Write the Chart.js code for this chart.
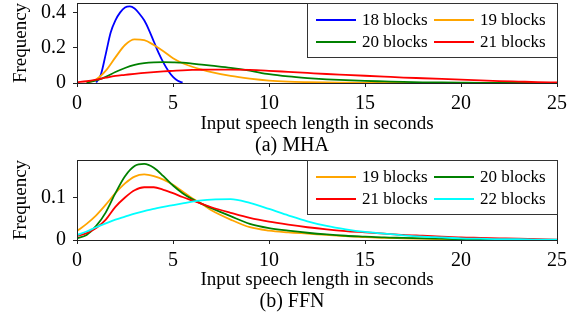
<!DOCTYPE html>
<html>
<head>
<meta charset="utf-8">
<script src="https://cdn.jsdelivr.net/npm/chart.js@4.4.0/dist/chart.umd.min.js"></script>
<style>
  body { margin: 0; background: #fff; }
  #wrap { position: relative; width: 578px; height: 313px; overflow: hidden; }
  #wrap canvas { position: absolute; left: 0; }
  .cap { position: absolute; left: 0; width: 584px; text-align: center; font-family: "Liberation Serif", serif; font-size: 20px; line-height: 20px; color: #000; }
</style>
</head>
<body>
<div id="wrap">
  <canvas id="mha" width="578" height="157" style="top:0"></canvas>
  <canvas id="ffn" width="578" height="157" style="top:157px"></canvas>
  <div class="cap" style="top:134px">(a) MHA</div>
  <div class="cap" style="top:290px">(b) FFN</div>
</div>
<script>
// shared axis stuff
var xTicks = [0, 5, 10, 15, 20, 25];
var xTitle = 'Input speech length in seconds';
var yTitle = 'Frequency';

// (a) MHA
var mhaX = [0, 0.5, 1, 1.5, 2, 2.5, 3, 3.5, 4, 4.5, 5, 5.5, 6, 6.5, 7, 8, 9, 10, 11, 12, 13, 14, 15, 16, 17, 18, 19, 20, 21, 22, 23, 24, 25];
var mhaX18 = [1, 1.25, 1.5, 1.75, 2, 2.25, 2.5, 2.75, 3, 3.25, 3.5, 3.75, 4, 4.25, 4.5, 4.75, 5, 5.25, 5.5];
var mha18 = [0.003, 0.05, 0.165, 0.285, 0.355, 0.4, 0.428, 0.434, 0.422, 0.392, 0.355, 0.3, 0.235, 0.17, 0.115, 0.07, 0.035, 0.013, 0.002];
var mha19 = [null, 0.001, 0.02, 0.07, 0.145, 0.215, 0.247, 0.243, 0.215, 0.18, 0.14, 0.112, 0.092, 0.076, 0.062, 0.04, 0.025, 0.014, 0.008, 0.005, 0.003, 0.002, 0.001, 0.001, 0, 0, 0, 0, 0, 0, 0, 0, 0];
var mha20 = [null, 0.002, 0.015, 0.035, 0.062, 0.085, 0.102, 0.112, 0.117, 0.118, 0.117, 0.115, 0.11, 0.104, 0.098, 0.086, 0.07, 0.05, 0.037, 0.028, 0.021, 0.016, 0.012, 0.009, 0.006, 0.004, 0.003, 0.002, 0.001, 0.001, 0, 0, 0];
var mha21 = [0.004, 0.01, 0.019, 0.03, 0.04, 0.046, 0.052, 0.057, 0.062, 0.066, 0.069, 0.072, 0.074, 0.075, 0.076, 0.076, 0.074, 0.069, 0.063, 0.057, 0.051, 0.046, 0.041, 0.036, 0.031, 0.027, 0.023, 0.019, 0.015, 0.011, 0.008, 0.005, 0.003];
var mhaLabels = ['18 blocks', '19 blocks', '20 blocks', '21 blocks'];
var mhaYTicks = [0, 0.2, 0.4];
var mhaYLabels = ['0', '0.2', '0.4'];

// (b) FFN
var ffnX = mhaX;
var ffn19 = [0.021, 0.038, 0.058, 0.083, 0.11, 0.133, 0.149, 0.154, 0.15, 0.142, 0.13, 0.114, 0.098, 0.085, 0.07, 0.048, 0.03, 0.022, 0.018, 0.015, 0.012, 0.009, 0.007, 0.005, 0.004, 0.003, 0.002, 0.002, 0.001, 0.001, 0.001, 0, 0];
var ffn20 = [0.004, 0.012, 0.033, 0.065, 0.11, 0.15, 0.174, 0.179, 0.17, 0.15, 0.128, 0.11, 0.096, 0.085, 0.075, 0.056, 0.038, 0.028, 0.022, 0.017, 0.013, 0.01, 0.008, 0.006, 0.005, 0.004, 0.003, 0.002, 0.002, 0.001, 0.001, 0, 0];
var ffn21 = [0.009, 0.016, 0.028, 0.048, 0.078, 0.1, 0.117, 0.124, 0.124, 0.118, 0.11, 0.101, 0.093, 0.085, 0.077, 0.064, 0.052, 0.043, 0.036, 0.03, 0.025, 0.021, 0.018, 0.015, 0.012, 0.01, 0.008, 0.006, 0.005, 0.004, 0.003, 0.002, 0.001];
var ffn22 = [0.012, 0.02, 0.03, 0.039, 0.048, 0.055, 0.062, 0.068, 0.073, 0.078, 0.082, 0.086, 0.09, 0.093, 0.095, 0.096, 0.087, 0.073, 0.058, 0.044, 0.033, 0.025, 0.019, 0.015, 0.011, 0.008, 0.006, 0.004, 0.003, 0.002, 0.002, 0.001, 0.001];
var ffnLabels = ['19 blocks', '20 blocks', '21 blocks', '22 blocks'];
var ffnYTicks = [0, 0.1];
var ffnYLabels = ['0', '0.1'];

var serif = 'Liberation Serif';

function points(xs, ys) {
  var out = [];
  for (var i = 0; i < xs.length; i++) {
    out.push({ x: xs[i], y: ys[i] });
  }
  return out;
}

// frame on top/right + legend box in the upper right of the plot
var boxPlugin = {
  id: 'box',
  afterDatasetsDraw: function (chart) {
    var a = chart.chartArea, ctx = chart.ctx;
    ctx.save();
    ctx.strokeStyle = '#222';
    ctx.lineWidth = 1;
    ctx.strokeRect(Math.round(a.left) + 0.5, Math.round(a.top) + 0.5, Math.round(a.right - a.left), Math.round(a.bottom - a.top));

    var bx = Math.round(a.right) - 250, by = Math.round(a.top);
    ctx.fillStyle = '#fff';
    ctx.fillRect(bx, by, 250, 54);
    ctx.strokeStyle = '#333';
    ctx.strokeRect(bx + 0.5, by + 0.5, 250, 54);
    ctx.font = '17px "' + serif + '"';
    ctx.textBaseline = 'middle';
    ctx.textAlign = 'left';
    chart.data.datasets.forEach(function (ds, i) {
      var lx = a.right - (i % 2 ? 123 : 241);
      var ly = by + (i < 2 ? 17 : 39);
      ctx.strokeStyle = ds.borderColor;
      ctx.lineWidth = 2;
      ctx.beginPath();
      ctx.moveTo(lx, ly);
      ctx.lineTo(lx + 40, ly);
      ctx.stroke();
      ctx.fillStyle = '#000';
      ctx.fillText(ds.label, lx + 46, ly + 1);
    });
    ctx.restore();
  }
};

function makeChart(id, sets, yMax, yTicks, yLabels, titlePad) {
  var n = sets.length;
  var datasets = sets.map(function (s, i) {
    return {
      label: s.label,
      data: points(s.x, s.y),
      borderColor: s.color,
      borderWidth: 1.8,
      pointRadius: 0,
      fill: false,
      cubicInterpolationMode: 'monotone',
      order: n - i
    };
  });
  return new Chart(document.getElementById(id), {
    type: 'line',
    data: { datasets: datasets },
    plugins: [boxPlugin],
    options: {
      responsive: false,
      animation: false,
      layout: { padding: { top: 3, right: 21, left: 0, bottom: 0 } },
      plugins: { legend: { display: false }, tooltip: { enabled: false } },
      scales: {
        x: {
          type: 'linear', min: 0, max: 25,
          afterBuildTicks: function (s) { s.ticks = xTicks.map(function (v) { return { value: v }; }); },
          afterFit: function (s) { s.height = 74; s.paddingLeft = 0; s.paddingRight = 0; },
          grid: { drawOnChartArea: false, tickLength: 4, color: '#222' },
          border: { color: '#222', width: 1 },
          ticks: { font: { family: serif, size: 20 }, color: '#000', padding: 5, maxRotation: 0,
            callback: function (v) { return String(v); } },
          title: { display: true, text: xTitle, color: '#000', font: { family: serif, size: 19, lineHeight: 1 },
            padding: { top: 0, bottom: titlePad } }
        },
        y: {
          min: 0, max: yMax,
          afterBuildTicks: function (s) { s.ticks = yTicks.map(function (v) { return { value: v }; }); },
          afterFit: function (s) { s.width = 77; s.paddingTop = 0; s.paddingBottom = 0; },
          grid: { drawOnChartArea: false, tickLength: 4, color: '#222' },
          border: { color: '#222', width: 1 },
          ticks: { font: { family: serif, size: 20 }, color: '#000', padding: 7,
            callback: function (v, i) { return yLabels[i]; } },
          title: { display: true, text: yTitle, color: '#000', font: { family: serif, size: 19, lineHeight: 1 },
            padding: { top: 11.5, bottom: 0 } }
        }
      }
    }
  });
}

makeChart('mha', [
  { label: mhaLabels[0], x: mhaX18, y: mha18, color: '#0000ff' },
  { label: mhaLabels[1], x: mhaX, y: mha19, color: '#ffa500' },
  { label: mhaLabels[2], x: mhaX, y: mha20, color: '#008000' },
  { label: mhaLabels[3], x: mhaX, y: mha21, color: '#ff0000' }
], 0.453, mhaYTicks, mhaYLabels, 23);

makeChart('ffn', [
  { label: ffnLabels[0], x: ffnX, y: ffn19, color: '#ffa500' },
  { label: ffnLabels[1], x: ffnX, y: ffn20, color: '#008000' },
  { label: ffnLabels[2], x: ffnX, y: ffn21, color: '#ff0000' },
  { label: ffnLabels[3], x: ffnX, y: ffn22, color: '#00ffff' }
], 0.188, ffnYTicks, ffnYLabels, 24);
</script>
</body>
</html>
